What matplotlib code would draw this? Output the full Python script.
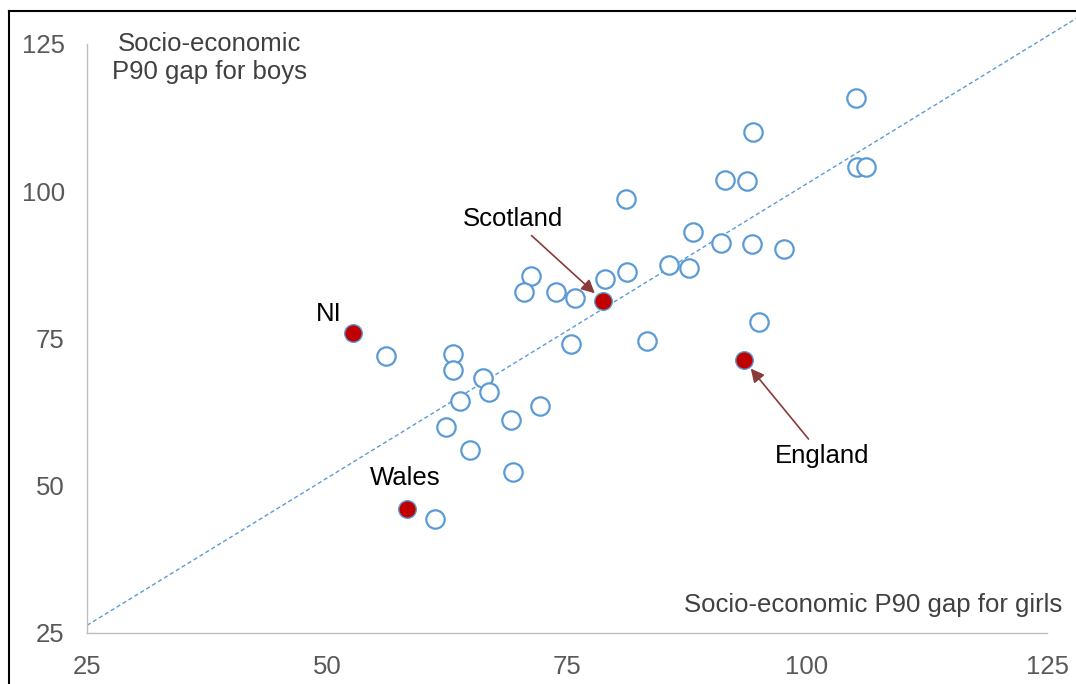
import numpy as np
import matplotlib.pyplot as plt
from matplotlib.lines import Line2D

plt.rcParams["font.family"] = ["Liberation Sans", "DejaVu Sans"]
plt.rcParams["font.size"] = 18.5

# socio-economic P90 gaps, other countries (girls, boys)
girls = [105.1, 94.4, 105.2, 106.1, 91.5, 93.75, 81.1, 88.1, 91.0, 94.3,
         97.6, 85.6, 87.7, 81.25, 78.96, 71.25, 70.5, 73.85, 75.8, 95.0,
         56.1, 63.1, 63.1, 66.2, 75.4, 83.3, 66.9, 63.8, 72.2, 62.35,
         69.2, 64.9, 69.4, 61.25]
boys = [115.8, 110.1, 104.1, 104.1, 101.9, 101.7, 98.7, 93.1, 91.2, 91.0,
        90.2, 87.5, 87.0, 86.3, 85.1, 85.6, 82.9, 82.9, 81.9, 77.85,
        72.0, 72.3, 69.65, 68.35, 74.1, 74.5, 65.9, 64.4, 63.6, 60.0,
        61.2, 56.1, 52.3, 44.4]

# UK nations
uk_names = ["NI", "Wales", "Scotland", "England"]
uk_girls = [52.7, 58.3, 78.75, 93.4]
uk_boys = [75.9, 46.05, 81.4, 71.35]

# linear trend line
trend_slope = 1.0
trend_intercept = 1.3

blue = "#5B9BD5"
red = "#C00000"
grey = "#595959"

fig = plt.figure(figsize=(10.76, 6.84), dpi=100)
ax = fig.add_axes([0.0809, 0.0746, 0.8922, 0.8611])

tx = np.array([25, 135])
ax.plot(tx, trend_slope * tx + trend_intercept, color=blue, lw=1.0,
        ls=(0, (3, 2)), clip_on=False, zorder=1)

ax.scatter(girls, boys, s=175, facecolors="white", edgecolors=blue,
           linewidths=1.6, zorder=3, clip_on=False)
ax.scatter(uk_girls, uk_boys, s=160, facecolors=red, edgecolors=blue,
           linewidths=1.0, zorder=4)

ax.set_xlim(25, 125)
ax.set_ylim(25, 125)
ax.set_xticks([25, 50, 75, 100, 125])
ax.set_yticks([25, 50, 75, 100, 125])
ax.tick_params(length=0, colors=grey, labelsize=18.5, pad=16)

for side in ["top", "right"]:
    ax.spines[side].set_visible(False)
for side in ["left", "bottom"]:
    ax.spines[side].set_color("#BFBFBF")
    ax.spines[side].set_linewidth(1.0)

# axis titles inside the plot area
ax.text(37.8, 127.0, "Socio-economic\nP90 gap for boys", ha="center", va="top",
        color="#404040", fontsize=18.5, linespacing=1.2)
ax.text(126.6, 29.75, "Socio-economic P90 gap for girls", ha="right",
        va="center", color="#404040", fontsize=18.5)

# country labels
arrow = dict(arrowstyle="-|>", color="#8B3A3A", lw=1.2, mutation_scale=20,
             shrinkA=2, shrinkB=8)
ax.text(50.2, 79.2, uk_names[0], ha="center", va="center")
ax.text(58.1, 51.3, uk_names[1], ha="center", va="center")
ax.annotate(uk_names[2], xy=(uk_girls[2], uk_boys[2]), xytext=(69.4, 95.3),
            ha="center", va="center", arrowprops=arrow)
ax.annotate(uk_names[3], xy=(uk_girls[3], uk_boys[3]), xytext=(101.6, 55.05),
            ha="center", va="center", arrowprops=arrow)

# outer frame (top and left edges)
fig.add_artist(Line2D([9 / 1076, 9 / 1076], [0, 1 - 11 / 684],
                      transform=fig.transFigure, color="black", lw=1.5))
fig.add_artist(Line2D([9 / 1076, 1], [1 - 11 / 684, 1 - 11 / 684],
                      transform=fig.transFigure, color="black", lw=1.5))

fig.savefig("out.png", dpi=100)
